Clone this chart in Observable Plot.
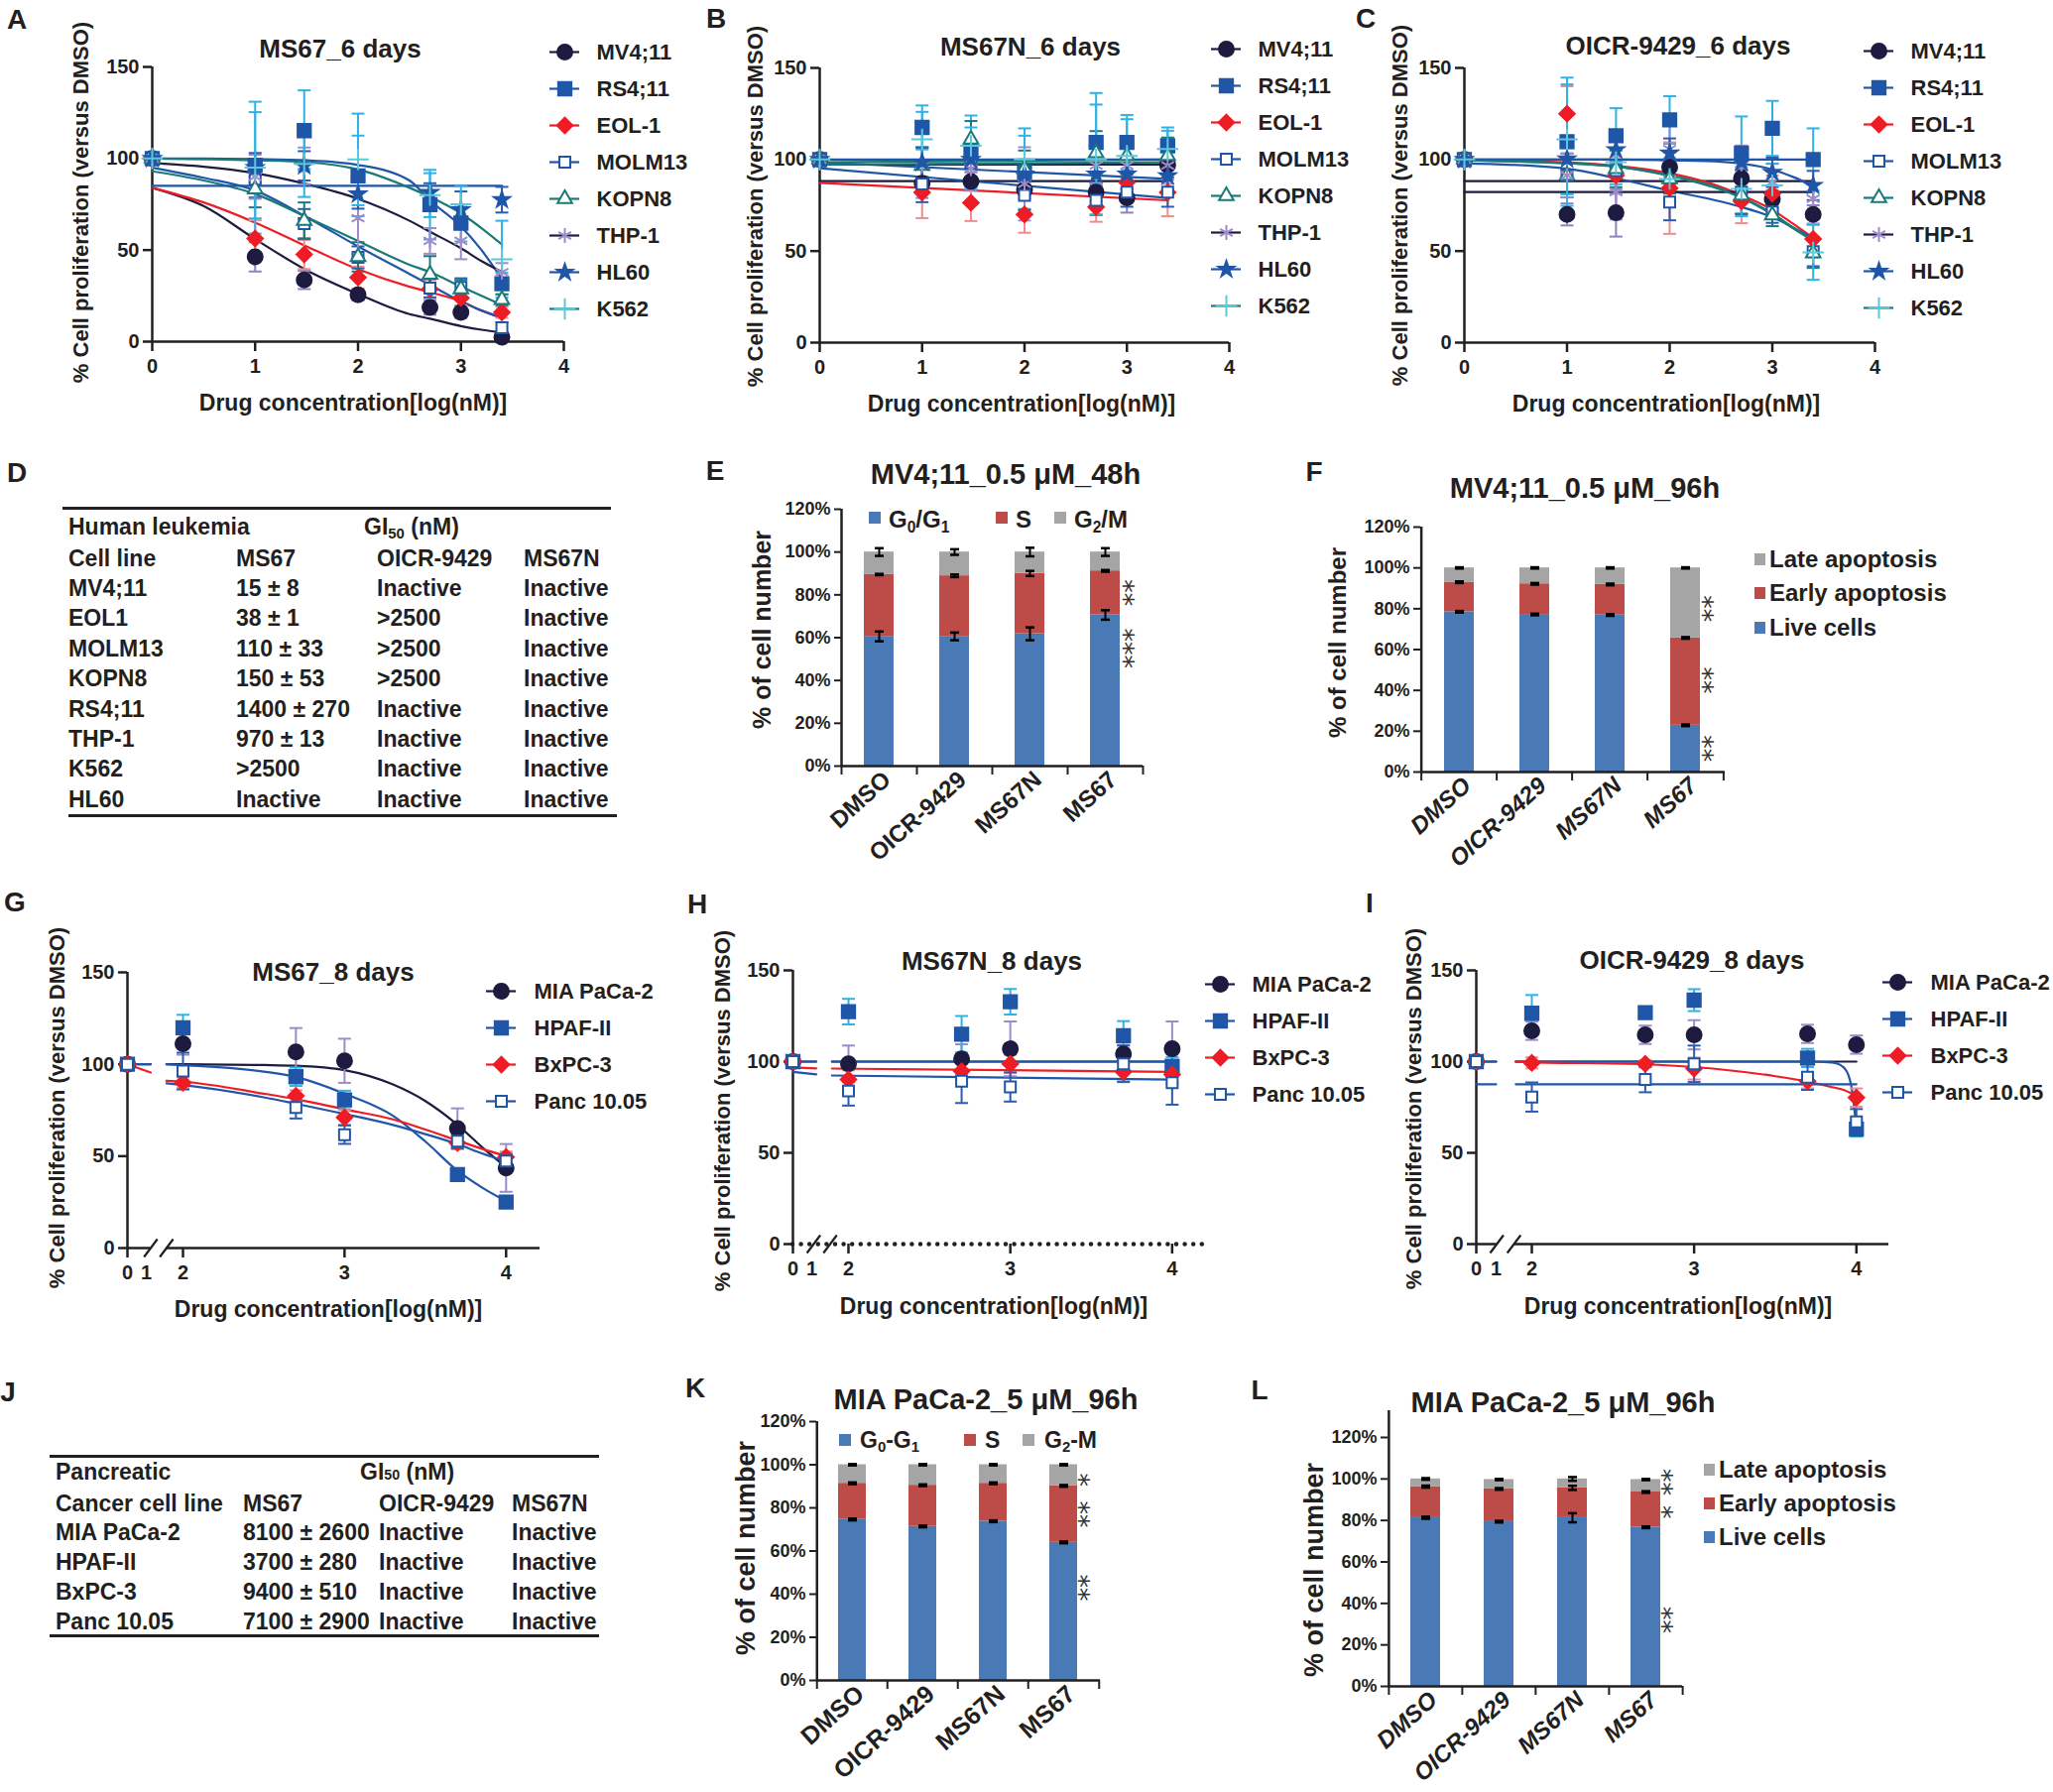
<!DOCTYPE html>
<html><head><meta charset="utf-8">
<script src="https://cdn.jsdelivr.net/npm/d3@7"></script>
<script src="https://cdn.jsdelivr.net/npm/@observablehq/plot@0.6"></script>
<style>
html,body{margin:0;padding:0;background:#fff;}
#fig{position:relative;width:2070px;height:1807px;overflow:hidden;background:#fff;font-family:"Liberation Sans",Arial,Helvetica,sans-serif;font-weight:bold;color:#231f20;}
.t{position:absolute;white-space:nowrap;line-height:1;}
.rule{position:absolute;height:0;border-top:3px solid #231f20;}
.sw{position:absolute;}
sub{font-size:65%;vertical-align:-0.3em;line-height:0;}
</style></head>
<body><div id="fig"></div>
<script>
// ================= DATA =================
const leukemiaLines = ["MV4;11","RS4;11","EOL-1","MOLM13","KOPN8","THP-1","HL60","K562"];
const leukemiaLogNM = [0, 1, 1.477, 2, 2.699, 3, 3.398];

// Panel A: MS67, 6 days
const A_mean = [
  [100, 46.3, 33.7, 25.6, 18.7, 16.0, 2.5],
  [100, 96.3, 115.2, 90.5, 74.8, 64.7, 31.6],
  [100, 56.3, 47.6, 35.0, 28.7, 23.8, 16.0],
  [100, 88.7, 64.4, 46.0, 29.2, 29.6, 7.6],
  [100, 83.3, 66.0, 46.3, 36.7, 28.7, 22.9],
  [100, 90.0, 96.0, 67.4, 55.0, 55.0, 37.9],
  [100, 95.0, 96.0, 80.6, 81.5, 72.0, 77.5],
  [100, 95.0, 97.0, 99.5, 80.0, 75.0, 45.0]
];
const A_err = [
  [0, 8, 5, 3, 4, 3, 1],
  [0, 29, 22, 22, 19, 10, 6],
  [0, 10, 8, 6, 5, 4, 3],
  [0, 10, 8, 6, 5, 5, 3],
  [0, 10, 10, 8, 10, 5, 3],
  [0, 12, 10, 22, 7, 10, 5],
  [0, 8, 8, 8, 5, 10, 7],
  [0, 36, 18, 25, 12, 10, 21]
];
const A_fitX = [0, 0.5, 1, 1.5, 2, 2.5, 2.7, 3, 3.2, 3.4];
const A_fit = [
  [84, 74, 56, 39, 26, 15, 12.5, 8.5, 6.5, 5],
  [100, 100, 99.7, 99, 96.5, 88, 77, 63, 50, 34],
  [84, 76, 65, 52, 39.5, 30, 27, 22, 17, 13],
  [95, 89.5, 82.5, 68, 52, 37, 31, 22, 17, 13],
  [93, 88, 80.6, 68, 55, 42, 38, 30, 25, 20],
  [97.5, 95.5, 92, 86, 78, 66, 60, 51, 44, 38],
  [85.1, 85.1, 85.1, 85.1, 85.1, 85.1, 85.1, 85.1, 85.1, 85.1],
  [100, 99.6, 99, 98, 94, 84, 79, 70, 62, 53]
];

// Panel B: MS67N, 6 days
const B_mean = [
  [100, 87.0, 88.0, 83.5, 82.2, 79.0, 97.0],
  [100, 117.5, 104.0, 93.0, 109.3, 109.3, 107.5],
  [100, 82.0, 76.4, 70.0, 74.0, 87.6, 82.0],
  [100, 86.7, 98.5, 80.4, 77.7, 82.2, 82.2],
  [100, 96.7, 111.0, 94.9, 103.5, 102.0, 102.0],
  [100, 96.7, 95.0, 86.7, 96.7, 96.7, 96.7],
  [100, 98.5, 100.0, 92.0, 92.0, 92.0, 91.0],
  [100, 111.0, 107.5, 100.0, 100.0, 102.0, 105.7]
];
const B_err = [
  [0, 8, 5, 5, 5, 8, 8],
  [0, 12, 20, 20, 27, 15, 10],
  [0, 14, 10, 10, 8, 4, 13],
  [0, 10, 10, 8, 8, 8, 8],
  [0, 10, 10, 10, 12, 10, 10],
  [0, 10, 10, 20, 10, 15, 10],
  [0, 8, 10, 8, 8, 8, 8],
  [0, 15, 10, 17, 30, 20, 10]
];
const B_fitX = [0, 3.4];
const B_fit = [
  [88.2, 88.2], [98.5, 89.4], [87.3, 77.7], [95.2, 79.0],
  [98.5, 100.0], [97.2, 97.2], [100, 100], [97.2, 98.5]
];

// Panel C: OICR-9429, 6 days
const C_mean = [
  [100, 70.0, 70.9, 95.8, 89.8, 78.2, 70.0],
  [100, 109.7, 113.0, 121.6, 103.5, 117.0, 100.0],
  [100, 125.0, 91.3, 84.4, 77.2, 81.3, 56.6],
  [100, 91.3, 94.0, 76.8, 82.2, 71.4, 49.7],
  [100, 91.3, 94.9, 89.4, 80.4, 69.6, 48.8],
  [100, 91.3, 82.2, 105.7, 97.6, 87.6, 78.6],
  [100, 100.3, 105.3, 103.5, 98.5, 93.0, 85.8],
  [100, 111.0, 98.5, 89.4, 84.0, 85.8, 49.3]
];
const C_err = [
  [0, 6, 13, 5, 5, 5, 5],
  [0, 35, 15, 13, 20, 15, 17],
  [0, 15, 10, 25, 12, 10, 8],
  [0, 12, 12, 10, 12, 6, 8],
  [0, 10, 10, 8, 10, 6, 8],
  [0, 12, 15, 15, 10, 10, 8],
  [0, 6, 6, 8, 8, 8, 8],
  [0, 30, 12, 10, 15, 12, 15]
];
const C_fitX = [0, 1, 1.5, 2, 2.5, 2.7, 3, 3.2, 3.4];
const C_fit = [
  [88.2, 88.2, 88.2, 88.2, 88.2, 88.2, 88.2, 88.2, 88.2],
  [100, 100, 100, 100, 100, 100, 100, 100, 100],
  [99.5, 98.5, 96.5, 92.5, 85, 80.5, 72.5, 65, 57],
  [98, 95, 89.5, 83, 77, 74, 68.5, 63, 57],
  [99.5, 98, 96, 91.5, 84, 79.5, 70.5, 63, 56],
  [82.2, 82.2, 82.2, 82.2, 82.2, 82.2, 82.2, 82.2, 82.2],
  [100, 100, 100, 99.5, 98.8, 97.8, 94.5, 90.5, 85.5],
  [99.5, 98, 96, 91, 83.5, 79, 70, 62.5, 55.5]
];

// Pancreatic panels G, H, I
const pancLines = ["MIA PaCa-2","HPAF-II","BxPC-3","Panc 10.05"];
const pancLogNM = [0, 2, 2.699, 3, 3.699, 4];

const G_mean = [
  [100, 111.2, 106.7, 101.9, 65.0, 43.6],
  [100, 119.9, 93.2, 80.6, 40.0, 25.0],
  [100, 90.0, 82.8, 71.1, 57.2, 49.5],
  [100, 96.3, 76.5, 61.7, 58.1, 47.3]
];
const G_err = [[0, 6, 13, 12, 11, 13], [0, 7, 5, 5, 2, 2], [0, 3, 3, 4, 3, 3], [0, 10, 6, 5, 4, 4]];
const G_fitX = [1.55, 2, 2.5, 2.7, 3, 3.3, 3.5, 3.7, 3.85, 4];
const G_fit = [
  [100, 100, 99.6, 99.2, 96.8, 89, 80, 67, 55, 44],
  [100, 99.5, 96, 93, 84, 72, 58, 42, 33, 25.5],
  [91, 90.5, 84, 81, 75.5, 70, 64.5, 58.5, 54, 50],
  [89.6, 88.7, 82, 78.5, 73, 67, 62, 56.5, 51.5, 47]
];
const G_stubX = [0, 1.12];
const G_stub = [[100, 100], [100, 100], [100, 95.5], [null, null]];

const H_mean = [
  [100, 98.8, 101.5, 107.0, 104.2, 107.0],
  [100, 127.4, 115.0, 132.8, 114.2, 97.5],
  [100, 90.2, 94.8, 98.8, 94.4, 93.0],
  [100, 83.9, 89.3, 86.1, 98.8, 88.4]
];
const H_err = [[0, 10, 8, 15, 5, 15], [0, 7, 10, 7, 8, 5], [0, 5, 5, 5, 5, 5], [0, 8, 12, 8, 10, 12]];
const H_fitX = [1.55, 4];
const H_fit = [[100, 100], [100, 100], [96.2, 94.4], [92.4, 90.2]];
const H_stubX = [0, 1.12];
const H_stub = [[100, 100], [100, 100], [96.8, 96.3], [94.4, 93.0]];

const I_mean = [
  [100, 116.9, 114.7, 114.7, 115.2, 109.3],
  [100, 126.5, 126.8, 133.7, 102.0, 63.0],
  [100, 99.3, 98.8, 96.2, 89.3, 80.3],
  [100, 80.6, 90.2, 98.8, 91.5, 67.0]
];
const I_err = [[0, 5, 5, 8, 5, 5], [0, 10, 3, 6, 5, 4], [0, 3, 2, 6, 4, 5], [0, 8, 7, 10, 7, 7]];
const I_fitX = [1.55, 2, 2.7, 3, 3.5, 3.7, 3.85, 3.92, 3.96, 3.98, 4];
const I_fit = [
  [100, 100, 100, 100, 100, 100, 100, 100, 100, 100, 100],
  [100, 100, 100, 100, 100, 100, 99.5, 97, 90, 80, 63],
  [100, 99.7, 98.5, 97, 92, 89, 86, 84.5, 83, 82, 80.5],
  [87.6, 87.6, 87.6, 87.6, 87.6, 87.6, 87.6, 87.6, 87.6, 87.6, 87.6]
];
const I_stubX = [0, 1.0];
const I_stub = [[100, 100], [100, 100], [null, null], [87.6, 87.6]];

// Stacked bar panels
const barConds = ["DMSO","OICR-9429","MS67N","MS67"];
const E_G0G1 = [60.6, 60.6, 61.8, 70.6];
const E_S    = [28.9, 28.3, 28.2, 20.6];
const E_G2M  = [10.5, 11.1, 10.0, 8.8];
const E_errG0G1 = [2.3, 1.8, 3.0, 2.2];
const E_errS    = [0.3, 0.6, 1.2, 0.4];
const E_errG2M  = [1.8, 1.3, 2.0, 1.8];
const E_stars = [{cond: "MS67", y: 81, t: "**"}, {cond: "MS67", y: 55, t: "***"}];

const F_live  = [78.5, 77.2, 76.9, 22.9];
const F_early = [14.5, 15.0, 15.0, 42.8];
const F_late  = [7.0, 7.8, 8.1, 34.3];
const F_errLive  = [0.4, 0.4, 0.4, 0.4];
const F_errEarly = [0.4, 0.4, 0.4, 0.4];
const F_errLate  = [0.3, 0.3, 0.3, 0.3];
const F_stars = [{cond: "MS67", y: 80, t: "**"}, {cond: "MS67", y: 45, t: "**"}, {cond: "MS67", y: 11.5, t: "**"}];

const K_G0G1 = [74.6, 71.4, 73.8, 64.0];
const K_S    = [16.8, 19.1, 17.6, 26.2];
const K_G2M  = [8.6, 9.5, 8.6, 9.8];
const K_errG0G1 = [0.4, 0.4, 0.4, 0.4];
const K_errS    = [0.4, 0.4, 0.4, 0.4];
const K_errG2M  = [0.3, 0.3, 0.3, 0.3];
const K_stars = [{cond: "MS67", y: 93, t: "*"}, {cond: "MS67", y: 77, t: "**"}, {cond: "MS67", y: 43, t: "**"}];

const L_live  = [81.3, 79.4, 81.3, 76.7];
const L_early = [15.0, 15.8, 14.4, 17.0];
const L_late  = [3.7, 4.5, 4.3, 6.0];
const L_errLive  = [0.5, 0.4, 2.2, 0.4];
const L_errEarly = [0.5, 0.4, 1.0, 0.4];
const L_errLate  = [0.4, 0.3, 0.9, 0.3];
const L_stars = [{cond: "MS67", y: 98.5, t: "**"}, {cond: "MS67", y: 84, t: "*"}, {cond: "MS67", y: 32, t: "**"}];

// Tables
const D_colHeads = ["Cell line", "MS67", "OICR-9429", "MS67N"];
const D_rows = [
  ["MV4;11", "15 ± 8", "Inactive", "Inactive"],
  ["EOL1", "38 ± 1", ">2500", "Inactive"],
  ["MOLM13", "110 ± 33", ">2500", "Inactive"],
  ["KOPN8", "150 ± 53", ">2500", "Inactive"],
  ["RS4;11", "1400 ± 270", "Inactive", "Inactive"],
  ["THP-1", "970 ± 13", "Inactive", "Inactive"],
  ["K562", ">2500", "Inactive", "Inactive"],
  ["HL60", "Inactive", "Inactive", "Inactive"]
];
const J_colHeads = ["Cancer cell line", "MS67", "OICR-9429", "MS67N"];
const J_rows = [
  ["MIA PaCa-2", "8100 ± 2600", "Inactive", "Inactive"],
  ["HPAF-II", "3700 ± 280", "Inactive", "Inactive"],
  ["BxPC-3", "9400 ± 510", "Inactive", "Inactive"],
  ["Panc 10.05", "7100 ± 2900", "Inactive", "Inactive"]
];

// ================= STYLES =================
const W = 2070, H = 1807;
const INK = "#231f20";
const FONT = '"Liberation Sans", Arial, Helvetica, sans-serif';
const NAVY = "#1d1b3f", BLUE = "#1f56a8", RED = "#ee1c25", TEAL = "#1a7a78";
const leukStyles = {
  "MV4;11": {line: NAVY, symbol: "circle", fill: NAVY, stroke: NAVY, err: "#8f82c0", r: 7.5},
  "RS4;11": {line: BLUE, symbol: "square", fill: BLUE, stroke: BLUE, err: "#2eb2e8", r: 7.5},
  "EOL-1":  {line: RED, symbol: "diamond2", fill: RED, stroke: RED, err: "#f28b8b", r: 7},
  "MOLM13": {line: BLUE, symbol: "square2", fill: "#fff", stroke: BLUE, err: "#2a5db0", r: 7},
  "KOPN8":  {line: TEAL, symbol: "triangle2", fill: "#fff", stroke: TEAL, err: TEAL, r: 7},
  "THP-1":  {line: NAVY, symbol: "asterisk", fill: "none", stroke: "#9d8cc9", err: "#9d8cc9", r: 7},
  "HL60":   {line: BLUE, symbol: "star", fill: BLUE, stroke: BLUE, err: "#2a5db0", r: 5},
  "K562":   {line: TEAL, symbol: "plus", fill: "none", stroke: "#5cc8dc", err: "#2eb2e8", r: 7}
};
const pancStyles = {
  "MIA PaCa-2": {line: NAVY, symbol: "circle", fill: NAVY, stroke: NAVY, err: "#9d8cc9", r: 7.5},
  "HPAF-II":    {line: BLUE, symbol: "square", fill: BLUE, stroke: BLUE, err: "#2eb2e8", r: 7.5},
  "BxPC-3":     {line: RED, symbol: "diamond2", fill: RED, stroke: RED, err: "#f28b8b", r: 7},
  "Panc 10.05": {line: BLUE, symbol: "square2", fill: "#fff", stroke: BLUE, err: "#2a5db0", r: 7}
};
const BAR_BLUE = "#4a7ab5", BAR_RED = "#bd4b48", BAR_GREY = "#a5a5a5";

const baseStyle = {fontFamily: FONT, fontWeight: "bold", fontSize: "20px", color: INK, background: "transparent", overflow: "visible"};
const fig = document.getElementById("fig");

function add(svg) {
  svg.style.position = "absolute"; svg.style.left = "0px"; svg.style.top = "0px";
  svg.style.maxWidth = "none"; svg.style.height = H + "px"; svg.style.background = "transparent";
  fig.appendChild(svg);
}
function txt(html, x, y, o = {}) {
  const d = document.createElement("div");
  d.className = "t";
  d.innerHTML = html;
  d.style.fontSize = (o.size || 22) + "px";
  if (o.weight) d.style.fontWeight = o.weight;
  d.style.left = x + "px"; d.style.top = y + "px";
  const tx = o.anchor === "start" ? "0%" : o.anchor === "end" ? "-100%" : "-50%";
  d.style.transform = `translate(${tx},-50%)` + (o.rotate ? ` rotate(${o.rotate}deg)` : "");
  fig.appendChild(d);
  return d;
}
function hline(x1, x2, y, w = 3) {
  const d = document.createElement("div");
  d.className = "rule";
  d.style.left = x1 + "px"; d.style.width = (x2 - x1) + "px";
  d.style.top = (y - w / 2) + "px"; d.style.borderTopWidth = w + "px";
  fig.appendChild(d);
}
function swatch(color, x, y, w, h) {
  const d = document.createElement("div");
  d.className = "sw";
  d.style.left = (x - w / 2) + "px"; d.style.top = (y - h / 2) + "px";
  d.style.width = w + "px"; d.style.height = h + "px"; d.style.background = color;
  fig.appendChild(d);
}

const capSym = {draw(ctx, size) { const w = Math.sqrt(size / Math.PI); ctx.moveTo(-w, 0); ctx.lineTo(w, 0); }};
const slashSym = {draw(ctx, size) { const w = Math.sqrt(size / Math.PI); ctx.moveTo(-0.75 * w, w); ctx.lineTo(0.75 * w, -w); }};

// ================= DOSE-RESPONSE PANELS =================
function dosePanel(p) {
  const marks = [];
  const xEnd = p.xAxisEnd;
  if (p.dotted) {
    marks.push(Plot.ruleY([0], {x1: 0, x2: xEnd, stroke: INK, strokeWidth: 4.5, strokeDasharray: "0,8.6", strokeLinecap: "round"}));
  } else if (p.breaks) {
    marks.push(Plot.ruleY([0], {x1: 0, x2: p.breaks[0], stroke: INK, strokeWidth: 2.5}));
    marks.push(Plot.ruleY([0], {x1: p.breaks[1], x2: xEnd, stroke: INK, strokeWidth: 2.5}));
  } else {
    marks.push(Plot.ruleY([0], {x1: 0, x2: xEnd, stroke: INK, strokeWidth: 2.5}));
  }
  if (p.breaks) marks.push(Plot.dot(p.breaks, {x: d => d, y: 0, symbol: slashSym, r: 9, stroke: INK, fill: "none", strokeWidth: 2.2}));
  marks.push(Plot.ruleX([0], {y1: 0, y2: 150, stroke: INK, strokeWidth: 2.5}));
  marks.push(Plot.axisY({ticks: [0, 50, 100, 150], tickSize: 9, tickPadding: 4, strokeWidth: 2.5, label: null, fontSize: 20}));
  marks.push(Plot.axisX({ticks: p.xTicks, tickSize: 10, tickPadding: 7, strokeWidth: 2.5, label: null, fontSize: 20, tickFormat: d => String(d)}));
  if (p.extraTickLabels) marks.push(Plot.axisX(p.extraTickLabels, {tickSize: 0, tickPadding: 17, label: null, fontSize: 20, tickFormat: d => String(d)}));
  p.names.forEach((n, k) => {
    const s = p.styles[n];
    const rows = [];
    p.fitX.forEach((x, i) => { const y = p.fit[k][i]; if (y != null) rows.push({x, y, seg: "main"}); });
    if (p.stubX) p.stubX.forEach((x, i) => { const y = p.stub[k][i]; if (y != null) rows.push({x, y, seg: "stub"}); });
    marks.push(Plot.line(rows, {x: "x", y: "y", z: "seg", stroke: s.line, strokeWidth: 2.2, curve: "monotone-x"}));
  });
  p.names.forEach((n, k) => {
    const s = p.styles[n];
    const rows = p.xs.map((x, i) => ({x, y: p.mean[k][i], e: p.err[k][i]})).filter(r => r.e > 0);
    marks.push(Plot.ruleX(rows, {x: "x", y1: d => d.y - d.e, y2: d => d.y + d.e, stroke: s.err, strokeWidth: 2}));
    marks.push(Plot.dot(rows, {x: "x", y: d => d.y + d.e, symbol: capSym, r: 6.5, stroke: s.err, fill: "none", strokeWidth: 2}));
    marks.push(Plot.dot(rows, {x: "x", y: d => d.y - d.e, symbol: capSym, r: 6.5, stroke: s.err, fill: "none", strokeWidth: 2}));
  });
  p.names.forEach((n, k) => {
    const s = p.styles[n];
    const rows = p.xs.map((x, i) => ({x, y: p.mean[k][i]}));
    marks.push(Plot.dot(rows, {x: "x", y: "y", symbol: s.symbol, r: s.r, fill: s.fill, stroke: s.stroke, strokeWidth: 2}));
  });
  const f = p.frame;
  const xOpt = p.xPiece ? {type: "linear", domain: p.xPiece.domain, range: p.xPiece.range} : {domain: [0, 4]};
  const left = p.xPiece ? p.xPiece.range[0] : f.left;
  const right = p.xPiece ? p.xPiece.range[p.xPiece.range.length - 1] : f.right;
  add(Plot.plot({
    width: W, height: H,
    marginLeft: left, marginRight: W - right, marginTop: f.top, marginBottom: H - f.bottom,
    x: xOpt, y: {domain: [0, 150]},
    style: baseStyle, marks
  }));
  // legend
  const L = p.legend;
  const lm = [];
  p.names.forEach(n => {
    const s = p.styles[n];
    lm.push(Plot.ruleY([n], {x1: 0, x2: 1, stroke: s.line, strokeWidth: 2.2}));
    lm.push(Plot.dot([n], {x: 0.5, y: d => d, symbol: s.symbol, r: s.r, fill: s.fill, stroke: s.stroke, strokeWidth: 2}));
  });
  lm.push(Plot.text(p.names, {x: 1, y: d => d, text: d => d, dx: L.tx - (L.mx + 15), textAnchor: "start", fontSize: 22, fontWeight: "bold"}));
  add(Plot.plot({
    width: W, height: H, margin: 0,
    x: {domain: [0, 1], range: [L.mx - 15, L.mx + 15], axis: null},
    y: {type: "point", domain: p.names, range: [L.y0, L.y1], padding: 0, axis: null},
    style: baseStyle, marks: lm
  }));
}

// ================= BAR PANELS =================
function barPanel(p) {
  const f = p.frame, n = p.conds.length, step = (f.right - f.left) / n;
  const rows = [], ebs = [];
  p.layers.forEach(L => p.conds.forEach((c, i) => rows.push({cond: c, layer: L.name, v: L.values[i], color: L.color})));
  p.conds.forEach((c, i) => {
    let cum = 0;
    p.layers.forEach(L => { cum += L.values[i]; ebs.push({cond: c, y: cum, e: L.err[i]}); });
  });
  const marks = [
    Plot.barY(rows, {x: "cond", y: "v", fill: "color", z: "layer"}),
    Plot.ruleY([0], {stroke: INK, strokeWidth: 2.5}),
    Plot.ruleX([p.conds[0]], {dx: -step / 2, y1: 0, y2: p.yTop, stroke: INK, strokeWidth: 2.5}),
    Plot.axisY({ticks: [0, 20, 40, 60, 80, 100, 120], tickFormat: d => d + "%", tickSize: 7, tickPadding: 4, strokeWidth: 2, fontSize: p.tickFont, label: null}),
    Plot.axisX({tickSize: 9, tickFormat: () => "", dx: -step / 2, strokeWidth: 2, label: null}),
    Plot.axisX([p.conds[n - 1]], {tickSize: 9, tickFormat: () => "", dx: step / 2, strokeWidth: 2, label: null}),
    Plot.axisX({tickSize: 0, tickRotate: -42, tickPadding: 10, dx: 8, fontSize: p.labelFont, fontStyle: p.italic ? "italic" : "normal", label: null}),
    Plot.ruleX(ebs, {x: "cond", y1: d => d.y - d.e, y2: d => d.y + d.e, stroke: "#000", strokeWidth: 2}),
    Plot.dot(ebs, {x: "cond", y: d => d.y + d.e, symbol: capSym, r: 4.5, stroke: "#000", fill: "none", strokeWidth: 2.5}),
    Plot.dot(ebs, {x: "cond", y: d => d.y - d.e, symbol: capSym, r: 4.5, stroke: "#000", fill: "none", strokeWidth: 2.5}),
    Plot.text(p.stars, {x: "cond", y: "y", text: "t", rotate: 90, dx: p.starDx - 7, fontSize: 27, fontWeight: "normal", fontFamily: "DejaVu Sans", fill: "#333"})
  ];
  add(Plot.plot({
    width: W, height: H,
    marginLeft: f.left, marginRight: W - f.right, marginTop: f.top, marginBottom: H - f.bottom,
    x: {type: "band", domain: p.conds, paddingInner: 0.6, paddingOuter: 0.3},
    y: {domain: [0, p.yTop]},
    color: {type: "identity"},
    style: baseStyle, marks
  }));
}

// ================= BUILD =================
const YLAB = "% Cell proliferation (versus DMSO)";
const XLAB = "Drug concentration[log(nM)]";

// Row 1
dosePanel({names: leukemiaLines, styles: leukStyles, xs: leukemiaLogNM, mean: A_mean, err: A_err, fitX: A_fitX, fit: A_fit,
  frame: {left: 153, right: 568, top: 67, bottom: 344}, xTicks: [0, 1, 2, 3, 4], xAxisEnd: 4,
  legend: {mx: 569, tx: 601, y0: 52, y1: 311}});
dosePanel({names: leukemiaLines, styles: leukStyles, xs: leukemiaLogNM, mean: B_mean, err: B_err, fitX: B_fitX, fit: B_fit,
  frame: {left: 826, right: 1239, top: 68, bottom: 345}, xTicks: [0, 1, 2, 3, 4], xAxisEnd: 4,
  legend: {mx: 1236, tx: 1268, y0: 49, y1: 308}});
dosePanel({names: leukemiaLines, styles: leukStyles, xs: leukemiaLogNM, mean: C_mean, err: C_err, fitX: C_fitX, fit: C_fit,
  frame: {left: 1476, right: 1890, top: 68, bottom: 345}, xTicks: [0, 1, 2, 3, 4], xAxisEnd: 4,
  legend: {mx: 1894, tx: 1926, y0: 50, y1: 310}});

txt("A", 17, 20, {size: 28}); txt("B", 722, 19, {size: 28}); txt("C", 1377, 19, {size: 28});
txt("MS67_6 days", 343, 49, {size: 26});
txt("MS67N_6 days", 1039, 47, {size: 26});
txt("OICR-9429_6 days", 1692, 46, {size: 26});
txt(YLAB, 82, 204, {size: 22, rotate: -90});
txt(YLAB, 762, 208, {size: 22, rotate: -90});
txt(YLAB, 1412, 207, {size: 22, rotate: -90});
txt(XLAB, 356, 406, {size: 23});
txt(XLAB, 1030, 407, {size: 23});
txt(XLAB, 1680, 407, {size: 23});

// Row 2
txt("D", 17, 477, {size: 28}); txt("E", 721, 475, {size: 28}); txt("F", 1325, 476, {size: 28});
hline(63, 616, 512); hline(69, 622, 822);
txt("Human leukemia", 69, 531, {anchor: "start", size: 23});
txt("GI<sub>50</sub> (nM)", 367, 531, {anchor: "start", size: 23});
const D_colX = [69, 238, 380, 528];
D_colHeads.forEach((h, j) => txt(h, D_colX[j], 563, {anchor: "start", size: 23}));
D_rows.forEach((r, i) => r.forEach((c, j) => txt(c, D_colX[j], 593 + i * 30.4, {anchor: "start", size: 23})));

barPanel({conds: barConds, frame: {left: 848, right: 1152, top: 513, bottom: 772}, yTop: 120,
  layers: [{name: "G0/G1", values: E_G0G1, err: E_errG0G1, color: BAR_BLUE},
           {name: "S", values: E_S, err: E_errS, color: BAR_RED},
           {name: "G2/M", values: E_G2M, err: E_errG2M, color: BAR_GREY}],
  stars: E_stars, starDx: 25, tickFont: 18, labelFont: 24});
txt("MV4;11_0.5 μM_48h", 1014, 478, {size: 29});
txt("% of cell number", 768, 635, {size: 25, rotate: -90});
swatch(BAR_BLUE, 882, 522, 12, 12); txt("G<sub>0</sub>/G<sub>1</sub>", 896, 524, {anchor: "start", size: 24});
swatch(BAR_RED, 1010, 522, 12, 12); txt("S", 1024, 524, {anchor: "start", size: 24});
swatch(BAR_GREY, 1069, 522, 12, 12); txt("G<sub>2</sub>/M", 1083, 524, {anchor: "start", size: 24});

barPanel({conds: barConds, frame: {left: 1432, right: 1739, top: 531, bottom: 778}, yTop: 120,
  layers: [{name: "Live", values: F_live, err: F_errLive, color: BAR_BLUE},
           {name: "Early", values: F_early, err: F_errEarly, color: BAR_RED},
           {name: "Late", values: F_late, err: F_errLate, color: BAR_GREY}],
  stars: F_stars, starDx: 24, tickFont: 18, labelFont: 24, italic: true});
txt("MV4;11_0.5 μM_96h", 1598, 492, {size: 29});
txt("% of cell number", 1349, 648, {size: 24, rotate: -90});
swatch(BAR_GREY, 1774, 564, 11, 12); txt("Late apoptosis", 1784, 564, {anchor: "start", size: 24});
swatch(BAR_RED, 1774, 598, 11, 12); txt("Early apoptosis", 1784, 598, {anchor: "start", size: 24});
swatch(BAR_BLUE, 1774, 633, 11, 12); txt("Live cells", 1784, 633, {anchor: "start", size: 24});

// Row 3
dosePanel({names: pancLines, styles: pancStyles, xs: pancLogNM, mean: G_mean, err: G_err, fitX: G_fitX, fit: G_fit,
  stubX: G_stubX, stub: G_stub,
  frame: {top: 980, bottom: 1258}, xPiece: {domain: [0, 1, 2, 4.21], range: [128, 147, 184, 544]},
  xTicks: [0, 2, 3, 4], extraTickLabels: [1], xAxisEnd: 4.21, breaks: [1.12, 1.55],
  legend: {mx: 505, tx: 538, y0: 999, y1: 1110}});
dosePanel({names: pancLines, styles: pancStyles, xs: pancLogNM, mean: H_mean, err: H_err, fitX: H_fitX, fit: H_fit,
  stubX: H_stubX, stub: H_stub,
  frame: {top: 978, bottom: 1254}, xPiece: {domain: [0, 1, 2, 4.2], range: [799, 818, 855, 1214]},
  xTicks: [0, 2, 3, 4], extraTickLabels: [1], xAxisEnd: 4.2, breaks: [1.05, 1.5], dotted: true,
  legend: {mx: 1230, tx: 1262, y0: 992, y1: 1103}});
dosePanel({names: pancLines, styles: pancStyles, xs: pancLogNM, mean: I_mean, err: I_err, fitX: I_fitX, fit: I_fit,
  stubX: I_stubX, stub: I_stub,
  frame: {top: 978, bottom: 1254}, xPiece: {domain: [0, 1, 2, 4.2], range: [1488, 1508, 1544, 1904]},
  xTicks: [0, 2, 3, 4], extraTickLabels: [1], xAxisEnd: 4.2, breaks: [1.02, 1.5],
  legend: {mx: 1913, tx: 1946, y0: 990, y1: 1101}});

txt("G", 15, 910, {size: 28}); txt("H", 703, 912, {size: 28}); txt("I", 1381, 911, {size: 28});
txt("MS67_8 days", 336, 980, {size: 26});
txt("MS67N_8 days", 1000, 969, {size: 26});
txt("OICR-9429_8 days", 1706, 968, {size: 26});
txt(YLAB, 58, 1117, {size: 22, rotate: -90});
txt(YLAB, 729, 1120, {size: 22, rotate: -90});
txt(YLAB, 1426, 1118, {size: 22, rotate: -90});
txt(XLAB, 331, 1320, {size: 23});
txt(XLAB, 1002, 1317, {size: 23});
txt(XLAB, 1692, 1317, {size: 23});

// Row 4
txt("J", 8, 1404, {size: 28}); txt("K", 701, 1400, {size: 28}); txt("L", 1270, 1402, {size: 28});
hline(50, 604, 1468); hline(50, 604, 1649);
txt("Pancreatic", 56, 1484, {anchor: "start", size: 23});
txt("GI<span style='font-size:62%'>50</span> (nM)", 363, 1484, {anchor: "start", size: 23});
const J_colX = [56, 245, 382, 516];
J_colHeads.forEach((h, j) => txt(h, J_colX[j], 1516, {anchor: "start", size: 23}));
J_rows.forEach((r, i) => r.forEach((c, j) => txt(c, J_colX[j], 1545 + i * 30, {anchor: "start", size: 23})));

barPanel({conds: barConds, frame: {left: 823, right: 1109, top: 1433, bottom: 1694}, yTop: 120,
  layers: [{name: "G0-G1", values: K_G0G1, err: K_errG0G1, color: BAR_BLUE},
           {name: "S", values: K_S, err: K_errS, color: BAR_RED},
           {name: "G2-M", values: K_G2M, err: K_errG2M, color: BAR_GREY}],
  stars: K_stars, starDx: 22, tickFont: 18, labelFont: 25});
txt("MIA PaCa-2_5 μM_96h", 994, 1411, {size: 29});
txt("% of cell number", 752, 1561, {size: 27, rotate: -90});
swatch(BAR_BLUE, 852, 1452, 12, 12); txt("G<sub>0</sub>-G<sub>1</sub>", 867, 1452, {anchor: "start", size: 23});
swatch(BAR_RED, 978, 1452, 12, 12); txt("S", 993, 1452, {anchor: "start", size: 23});
swatch(BAR_GREY, 1037, 1452, 12, 12); txt("G<sub>2</sub>-M", 1053, 1452, {anchor: "start", size: 23});

barPanel({conds: barConds, frame: {left: 1399, right: 1696, top: 1422, bottom: 1700}, yTop: 132.9,
  layers: [{name: "Live", values: L_live, err: L_errLive, color: BAR_BLUE},
           {name: "Early", values: L_early, err: L_errEarly, color: BAR_RED},
           {name: "Late", values: L_late, err: L_errLate, color: BAR_GREY}],
  stars: L_stars, starDx: 23, tickFont: 18, labelFont: 24, italic: true});
txt("MIA PaCa-2_5 μM_96h", 1576, 1414, {size: 29});
txt("% of cell number", 1325, 1583, {size: 27, rotate: -90});
swatch(BAR_GREY, 1723, 1482, 11, 12); txt("Late apoptosis", 1733, 1482, {anchor: "start", size: 24});
swatch(BAR_RED, 1723, 1516, 11, 12); txt("Early apoptosis", 1733, 1516, {anchor: "start", size: 24});
swatch(BAR_BLUE, 1723, 1550, 11, 12); txt("Live cells", 1733, 1550, {anchor: "start", size: 24});
</script></body></html>
